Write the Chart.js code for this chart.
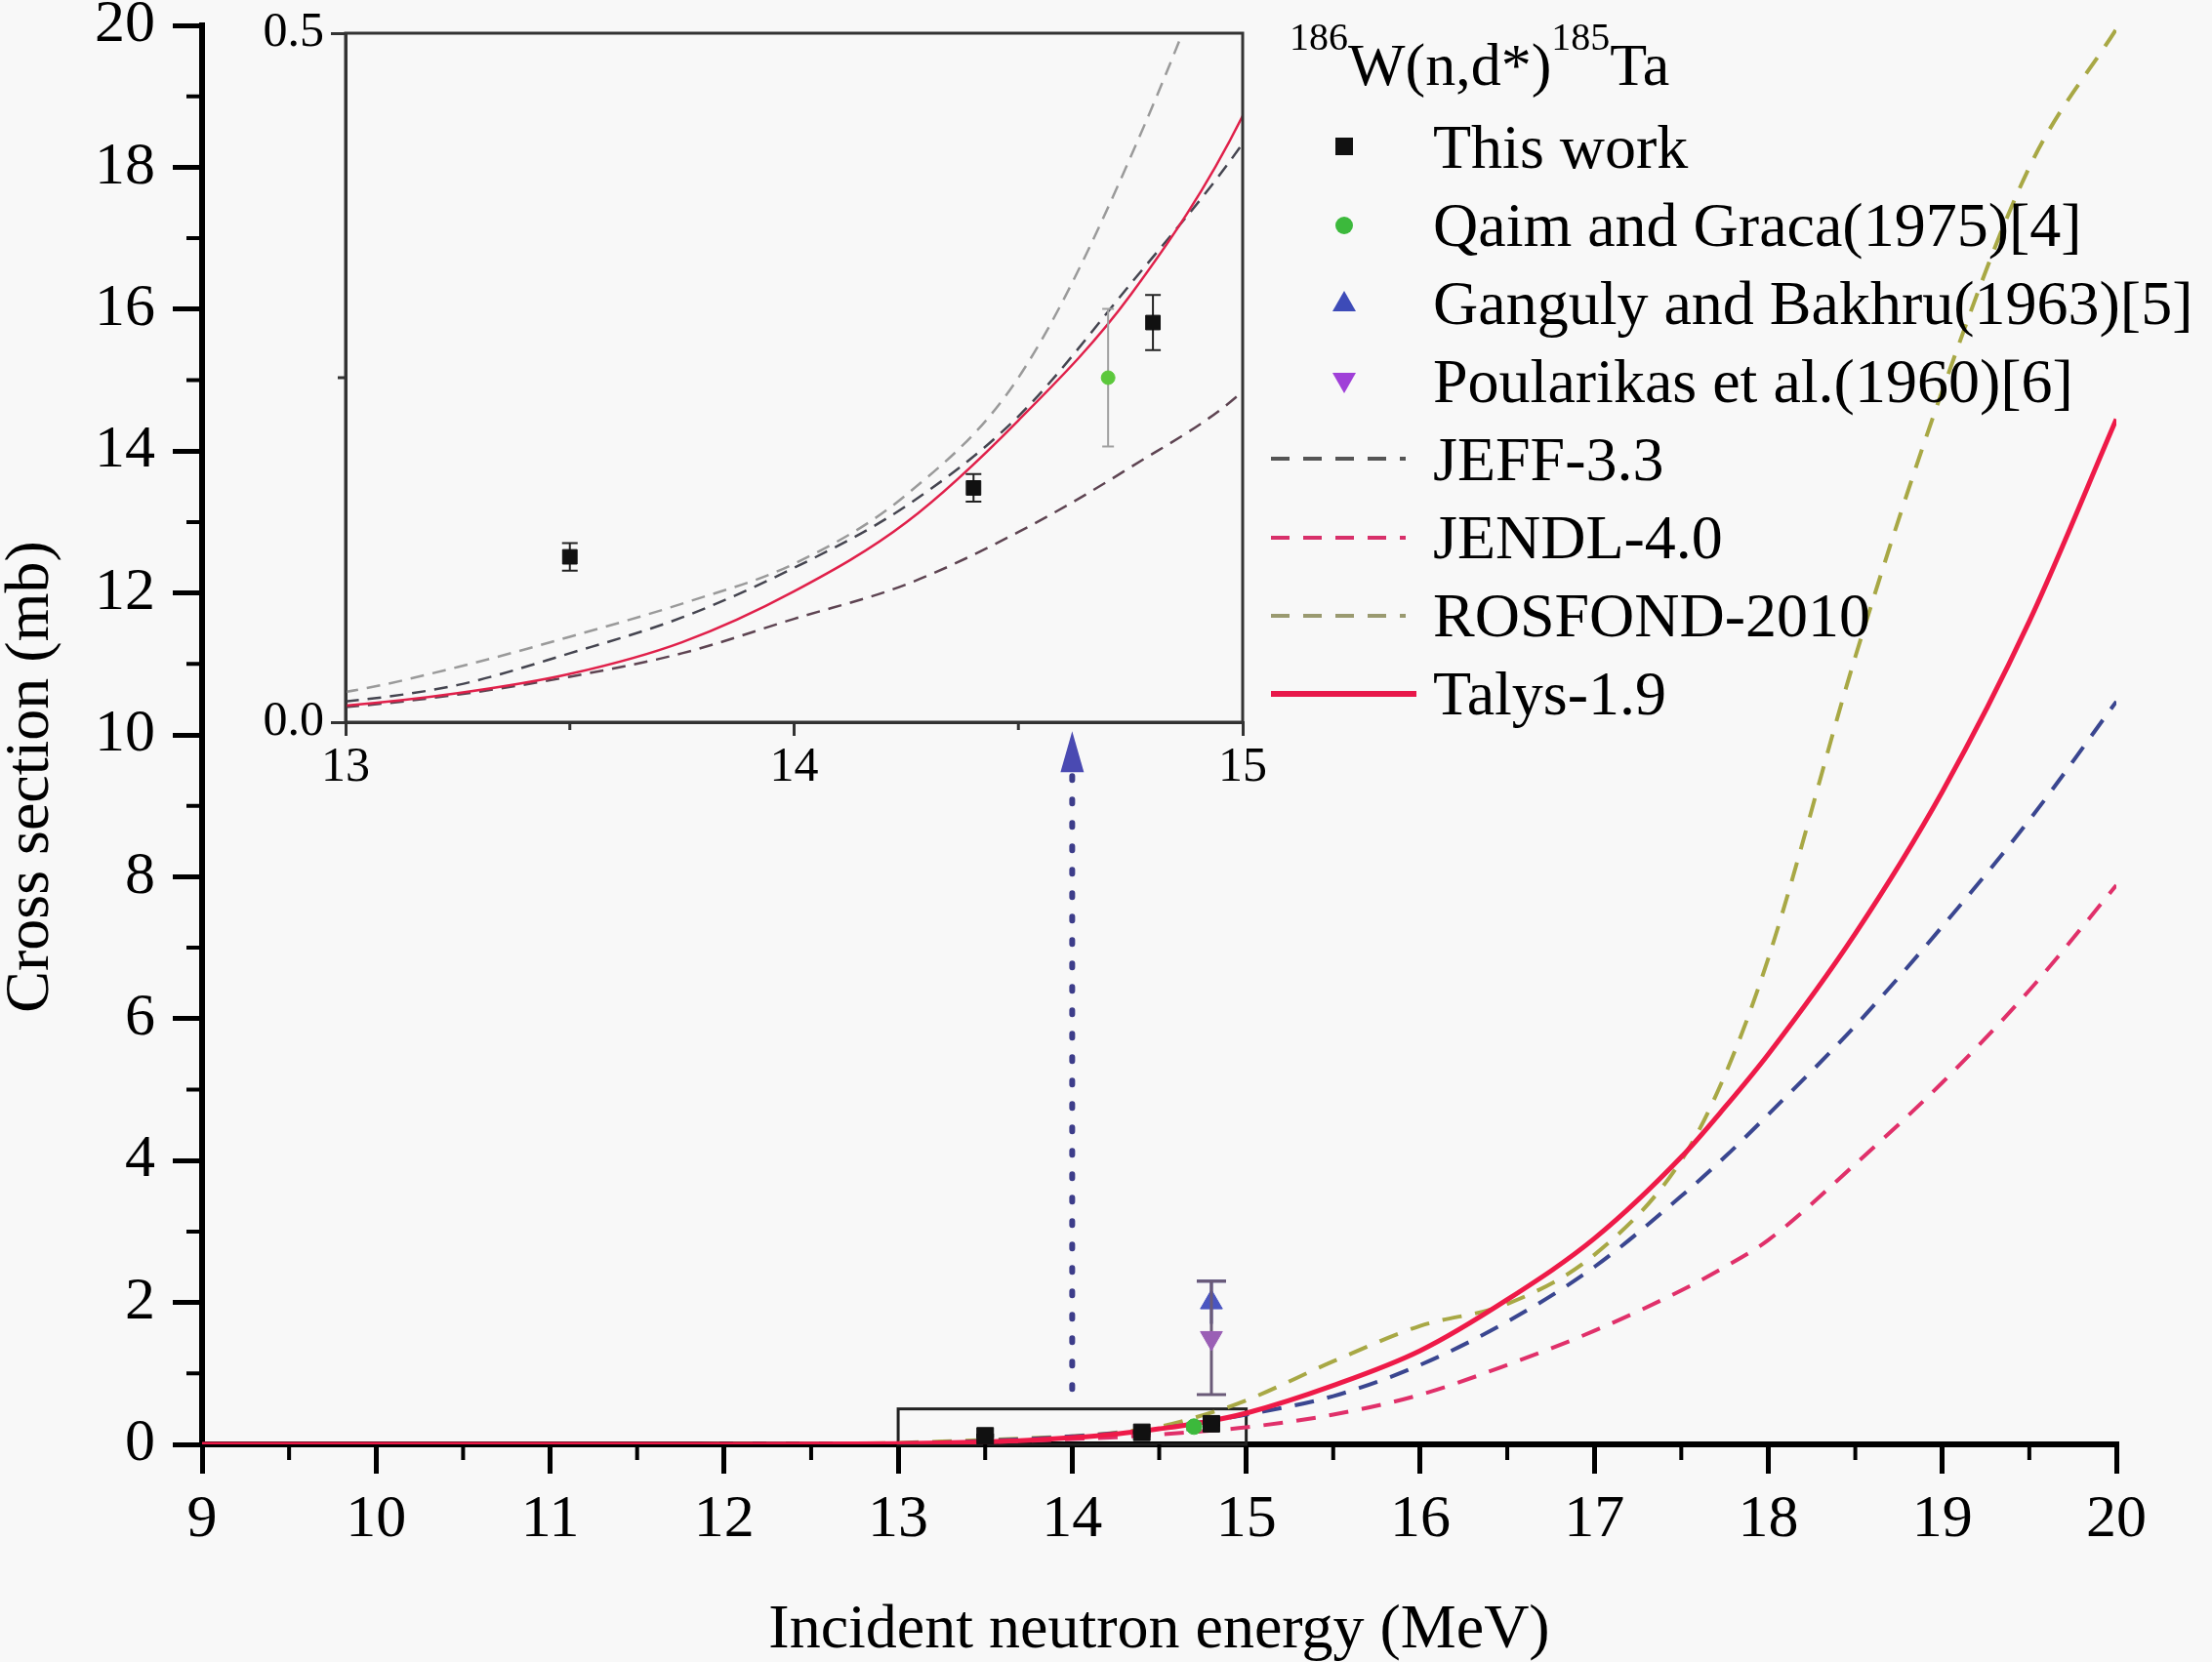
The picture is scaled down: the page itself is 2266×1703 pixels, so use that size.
<!DOCTYPE html>
<html lang="en">
<head>
  <meta charset="UTF-8" />
  <title>186W(n,d*)185Ta cross section</title>
  <style>
    html, body { margin: 0; padding: 0; background: #f8f8f8; }
    #wrap { position: relative; width: 2266px; height: 1703px; }
    #wrap canvas, #wrap svg { position: absolute; left: 0; top: 0; }
    svg text { font-family: 'Liberation Serif', 'Times New Roman', serif; fill: #000; }
  </style>
</head>
<body>
<div id="wrap">
  <canvas id="mainChart" width="2266" height="1703"></canvas>
  <canvas id="insetChart" width="2266" height="1703"></canvas>
  <svg id="legend" width="2266" height="1703" xmlns="http://www.w3.org/2000/svg">
    <text transform="translate(27,796) rotate(-90)" text-anchor="middle" dominant-baseline="central" font-size="64">Cross section (mb)</text>

    <text x="1321" y="87" font-size="62"><tspan font-size="40" dy="-36">186</tspan><tspan font-size="62" dy="36">W(n,d*)</tspan><tspan font-size="40" dy="-36">185</tspan><tspan font-size="62" dy="36">Ta</tspan></text>

    <rect x="1368" y="141" width="18" height="18" fill="#111" />
    <text x="1468" y="172" font-size="64">This work</text>

    <circle cx="1377" cy="231" r="9" fill="#3cb93c" />
    <text x="1468" y="252" font-size="64">Qaim and Graca(1975)[4]</text>

    <polygon points="1377,298 1389,319 1365,319" fill="#3d4bb8" />
    <text x="1468" y="332" font-size="64">Ganguly and Bakhru(1963)[5]</text>

    <polygon points="1365,382 1389,382 1377,403" fill="#a040d8" />
    <text x="1468" y="412" font-size="64">Poularikas et al.(1960)[6]</text>

    <line x1="1302" y1="470" x2="1440" y2="470" stroke="#555" stroke-width="4" stroke-dasharray="19 14" />
    <text x="1468" y="492" font-size="64">JEFF-3.3</text>

    <line x1="1302" y1="551" x2="1440" y2="551" stroke="#d8306a" stroke-width="4" stroke-dasharray="19 14" />
    <text x="1468" y="572" font-size="64">JENDL-4.0</text>

    <line x1="1302" y1="631" x2="1440" y2="631" stroke="#9a9a70" stroke-width="4" stroke-dasharray="19 14" />
    <text x="1468" y="652" font-size="64">ROSFOND-2010</text>

    <line x1="1302" y1="711" x2="1451" y2="711" stroke="#e8184a" stroke-width="6" />
    <text x="1468" y="732" font-size="64">Talys-1.9</text>
  </svg>
</div>

<script src="https://cdn.jsdelivr.net/npm/chart.js@4"></script>
<script>
  // evaluated excitation functions (MeV, mb)
  const energy  = [9, 10, 11, 12, 12.5, 13, 13.25, 13.5, 13.75, 14, 14.25, 14.5, 14.75, 15, 15.5, 16, 16.5, 17, 17.5, 17.75, 18, 18.5, 19, 19.5, 20];
  const jeff    = [0, 0, 0, 0.001, 0.004, 0.015, 0.027, 0.05, 0.076, 0.112, 0.157, 0.222, 0.318, 0.42, 0.68, 1.12, 1.73, 2.5, 3.5, 4.05, 4.65, 5.9, 7.3, 8.8, 10.47];
  const jendl   = [0, 0, 0, 0.001, 0.003, 0.011, 0.02, 0.033, 0.05, 0.075, 0.1, 0.138, 0.185, 0.24, 0.42, 0.7, 1.12, 1.6, 2.17, 2.5, 2.88, 3.95, 5.1, 6.4, 7.88];
  const rosfond = [0, 0, 0, 0.002, 0.006, 0.022, 0.04, 0.062, 0.086, 0.115, 0.165, 0.25, 0.41, 0.62, 1.17, 1.67, 1.98, 2.67, 4.0, 5.2, 6.85, 11.1, 14.85, 18.0, 19.95];
  const talys   = [0, 0, 0, 0.001, 0.003, 0.012, 0.021, 0.035, 0.058, 0.095, 0.145, 0.219, 0.31, 0.44, 0.83, 1.32, 2.04, 2.9, 4.05, 4.75, 5.5, 7.2, 9.2, 11.6, 14.45];

  // measurements
  const thisWorkE   = [13.5, 14.4, 14.8];
  const thisWorkXS  = [0.12, 0.17, 0.29];
  const thisWorkErr = [0.01, 0.01, 0.02];
  const qaimE   = [14.7];
  const qaimXS  = [0.25];
  const qaimErr = [0.05];
  const gangulyE   = [14.8];
  const gangulyXS  = [2.0];
  const gangulyErr = [0.3];
  const poularikasE   = [14.8];
  const poularikasXS  = [1.5];
  const poularikasErr = [0.8];

  // ticks
  const mainXTicks = [9, 10, 11, 12, 13, 14, 15, 16, 17, 18, 19, 20];
  const mainXMinor = [9.5, 10.5, 11.5, 12.5, 13.5, 14.5, 15.5, 16.5, 17.5, 18.5, 19.5];
  const mainYTicks = [0, 2, 4, 6, 8, 10, 12, 14, 16, 18, 20];
  const mainYMinor = [1, 3, 5, 7, 9, 11, 13, 15, 17, 19];
  const insetXTicks = [13, 14, 15];
  const insetXMinor = [13.5, 14.5];
  const insetYTicks = [0, 0.5];
  const insetYMinor = [0.25];

  // zoom box and arrow (data units)
  const zoomBox = { x0: 13, x1: 15, y0: 0, y1: 0.5 };
  const arrow = { x: 14, from: 0.78, tip: 10.05 };

  Chart.defaults.font.family = "'Liberation Serif', 'Times New Roman', serif";
  Chart.defaults.color = '#000';

  const pts = (xs, ys) => xs.map((x, i) => ({ x: x, y: ys[i] }));

  const errorBars = {
    id: 'errorBars',
    beforeDatasetDraw(chart, args) {
      const ds = chart.data.datasets[args.index];
      if (!ds.errors) return;
      const y = chart.scales.y;
      const ctx = chart.ctx;
      const c = ds.capHalf || 8;
      ctx.save();
      ctx.strokeStyle = ds.errorColor;
      ctx.lineWidth = ds.errorWidth || 2;
      args.meta.data.forEach((pt, i) => {
        const d = ds.data[i];
        const top = y.getPixelForValue(d.y + ds.errors[i]);
        const bot = y.getPixelForValue(d.y - ds.errors[i]);
        ctx.beginPath();
        ctx.moveTo(pt.x, top); ctx.lineTo(pt.x, bot);
        ctx.moveTo(pt.x - c, top); ctx.lineTo(pt.x + c, top);
        if (ds.lowerCap !== false) {
          ctx.moveTo(pt.x - c, bot); ctx.lineTo(pt.x + c, bot);
        }
        ctx.stroke();
      });
      ctx.restore();
    }
  };

  function minorTicks(xMinor, yMinor, len, width, color) {
    return {
      id: 'minorTicks',
      afterDraw(chart) {
        const { ctx, chartArea: a, scales: { x, y } } = chart;
        ctx.save();
        ctx.strokeStyle = color;
        ctx.lineWidth = width;
        ctx.beginPath();
        xMinor.forEach(v => {
          const px = x.getPixelForValue(v);
          ctx.moveTo(px, a.bottom); ctx.lineTo(px, a.bottom + len);
        });
        yMinor.forEach(v => {
          const py = y.getPixelForValue(v);
          ctx.moveTo(a.left, py); ctx.lineTo(a.left - len, py);
        });
        ctx.stroke();
        ctx.restore();
      }
    };
  }

  const mainExtras = {
    id: 'mainExtras',
    beforeDatasetsDraw(chart) {
      const { ctx, scales: { x, y } } = chart;
      const l = x.getPixelForValue(zoomBox.x0), r = x.getPixelForValue(zoomBox.x1);
      const t = y.getPixelForValue(zoomBox.y1), b = y.getPixelForValue(zoomBox.y0);
      ctx.save();
      ctx.strokeStyle = '#222';
      ctx.lineWidth = 3;
      ctx.strokeRect(l, t, r - l, b - t);
      ctx.restore();
    },
    afterDatasetsDraw(chart) {
      const { ctx, scales: { x, y } } = chart;
      const px = x.getPixelForValue(arrow.x);
      const y0 = y.getPixelForValue(arrow.from);
      const yt = y.getPixelForValue(arrow.tip);
      ctx.save();
      ctx.strokeStyle = '#3d3d8a';
      ctx.lineWidth = 6;
      ctx.lineCap = 'round';
      ctx.setLineDash([4, 20]);
      ctx.beginPath();
      ctx.moveTo(px, y0); ctx.lineTo(px, yt + 46);
      ctx.stroke();
      ctx.setLineDash([]);
      ctx.fillStyle = '#4a4ab2';
      ctx.beginPath();
      ctx.moveTo(px, yt); ctx.lineTo(px - 12, yt + 42); ctx.lineTo(px + 12, yt + 42);
      ctx.closePath();
      ctx.fill();
      ctx.restore();
    }
  };

  const insetFrame = {
    id: 'insetFrame',
    afterDraw(chart) {
      const { ctx, chartArea: a } = chart;
      ctx.save();
      ctx.strokeStyle = '#333';
      ctx.lineWidth = 3;
      ctx.strokeRect(a.left, a.top, a.right - a.left, a.bottom - a.top);
      ctx.restore();
    }
  };

  function curve(label, ys, color, width, dash) {
    return {
      label: label,
      data: pts(energy, ys),
      showLine: true,
      borderColor: color,
      borderWidth: width,
      borderDash: dash,
      pointRadius: 0,
      cubicInterpolationMode: 'monotone',
      fill: false
    };
  }

  function markers(label, xs, ys, errs, opts) {
    return Object.assign({
      label: label,
      data: pts(xs, ys),
      errors: errs,
      showLine: false
    }, opts);
  }

  // main chart
  new Chart(document.getElementById('mainChart'), {
    type: 'scatter',
    data: {
      datasets: [
        markers('This work', thisWorkE, thisWorkXS, thisWorkErr, {
          pointStyle: 'rect', pointRadius: 12, backgroundColor: '#111', borderColor: '#111',
          errorColor: '#111', errorWidth: 3, capHalf: 9 }),
        markers('Qaim and Graca(1975)[4]', qaimE, qaimXS, qaimErr, {
          pointStyle: 'circle', pointRadius: 8, backgroundColor: '#3cb93c', borderColor: '#3cb93c',
          errorColor: '#8a8a8a', errorWidth: 2, capHalf: 8 }),
        markers('Poularikas et al.(1960)[6]', poularikasE, poularikasXS, poularikasErr, {
          pointStyle: 'triangle', rotation: 180, pointRadius: 13, backgroundColor: '#9a5fb5', borderColor: '#9a5fb5',
          errorColor: '#6a5a78', errorWidth: 3, capHalf: 15 }),
        markers('Ganguly and Bakhru(1963)[5]', gangulyE, gangulyXS, gangulyErr, {
          pointStyle: 'triangle', pointRadius: 13, backgroundColor: '#4a55c0', borderColor: '#4a55c0',
          errorColor: '#4a4a9a', errorWidth: 3, capHalf: 15, lowerCap: false }),
        curve('Talys-1.9', talys, '#ee1a48', 5, []),
        curve('JEFF-3.3', jeff, '#3a4690', 4, [20, 14]),
        curve('JENDL-4.0', jendl, '#e0306a', 4, [20, 14]),
        curve('ROSFOND-2010', rosfond, '#a8a845', 4, [20, 14])
      ]
    },
    options: {
      responsive: false,
      devicePixelRatio: 1,
      animation: false,
      events: [],
      layout: { padding: { top: 26, right: 98, left: 0, bottom: 0 } },
      plugins: { legend: { display: false }, tooltip: { enabled: false } },
      scales: {
        x: {
          type: 'linear', min: 9, max: 20,
          afterBuildTicks: s => { s.ticks = mainXTicks.map(v => ({ value: v })); },
          afterFit: s => { s.height = 223; s.paddingLeft = 0; s.paddingRight = 0; },
          ticks: { font: { size: 62 }, color: '#000', padding: 11, maxRotation: 0, autoSkip: false },
          grid: { drawOnChartArea: false, drawTicks: true, tickLength: 30, tickWidth: 5, tickColor: '#000', lineWidth: 5 },
          border: { display: true, color: '#000', width: 6 },
          title: { display: true, text: 'Incident neutron energy (MeV)', font: { size: 64, lineHeight: 1.0 }, color: '#000', padding: { top: 0, bottom: 0 } }
        },
        y: {
          type: 'linear', min: 0, max: 20,
          afterBuildTicks: s => { s.ticks = mainYTicks.map(v => ({ value: v })); },
          afterFit: s => { s.width = 207; s.paddingTop = 0; s.paddingBottom = 0; },
          ticks: { font: { size: 62 }, color: '#000', padding: 18, autoSkip: false },
          grid: { drawOnChartArea: false, drawTicks: true, tickLength: 30, tickWidth: 5, tickColor: '#000', lineWidth: 5 },
          border: { display: true, color: '#000', width: 6 }
        }
      }
    },
    plugins: [errorBars, mainExtras, minorTicks(mainXMinor, mainYMinor, 16, 4, '#000')]
  });

  // inset 13-15 MeV
  new Chart(document.getElementById('insetChart'), {
    type: 'scatter',
    data: {
      datasets: [
        markers('This work', thisWorkE, thisWorkXS, thisWorkErr, {
          pointStyle: 'rect', pointRadius: 10.5, backgroundColor: '#111', borderColor: '#111',
          errorColor: '#222', errorWidth: 2, capHalf: 8 }),
        markers('Qaim and Graca(1975)[4]', qaimE, qaimXS, qaimErr, {
          pointStyle: 'circle', pointRadius: 7, backgroundColor: '#5cc83c', borderColor: '#5cc83c',
          errorColor: '#a0a0a0', errorWidth: 2, capHalf: 6 }),
        curve('Talys-1.9', talys, '#e0204a', 2.5, []),
        curve('JEFF-3.3', jeff, '#454550', 2.5, [14, 9]),
        curve('JENDL-4.0', jendl, '#5e4452', 2.5, [14, 9]),
        curve('ROSFOND-2010', rosfond, '#9a9a9a', 2.5, [14, 9])
      ]
    },
    options: {
      responsive: false,
      devicePixelRatio: 1,
      animation: false,
      events: [],
      layout: { padding: { top: 34, right: 993, left: 0, bottom: 0 } },
      plugins: { legend: { display: false }, tooltip: { enabled: false } },
      scales: {
        x: {
          type: 'linear', min: 13, max: 15,
          afterBuildTicks: s => { s.ticks = insetXTicks.map(v => ({ value: v })); },
          afterFit: s => { s.height = 963; s.paddingLeft = 0; s.paddingRight = 0; },
          ticks: { font: { size: 50 }, color: '#000', padding: 3, maxRotation: 0, autoSkip: false },
          grid: { drawOnChartArea: false, drawTicks: true, tickLength: 14, tickWidth: 3, tickColor: '#333', lineWidth: 3 },
          border: { display: true, color: '#333', width: 3 }
        },
        y: {
          type: 'linear', min: 0, max: 0.5,
          afterBuildTicks: s => { s.ticks = insetYTicks.map(v => ({ value: v })); },
          afterFit: s => { s.width = 354; s.paddingTop = 0; s.paddingBottom = 0; },
          ticks: { font: { size: 50 }, color: '#000', padding: 7, autoSkip: false, callback: v => v.toFixed(1) },
          grid: { drawOnChartArea: false, drawTicks: true, tickLength: 15, tickWidth: 3, tickColor: '#333', lineWidth: 3 },
          border: { display: true, color: '#333', width: 3 }
        }
      }
    },
    plugins: [errorBars, insetFrame, minorTicks(insetXMinor, insetYMinor, 8, 3, '#333')]
  });
</script>
</body>
</html>
